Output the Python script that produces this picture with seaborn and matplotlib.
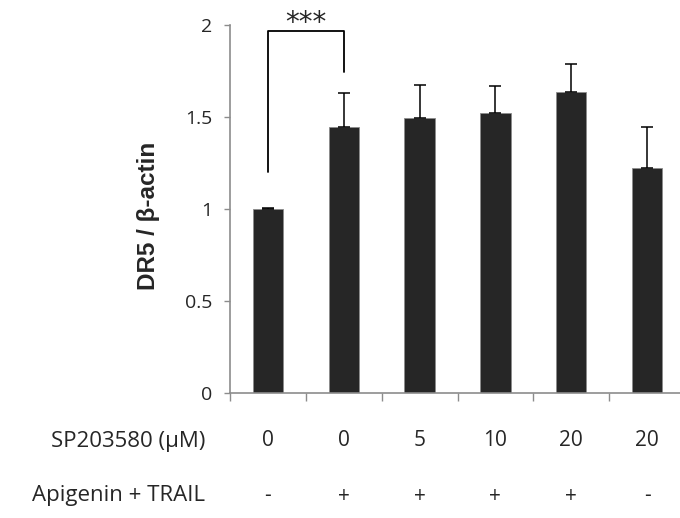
import numpy as np
import pandas as pd
import matplotlib
matplotlib.use("Agg")
import matplotlib.pyplot as plt
import seaborn as sns

# values
groups = ["g1", "g2", "g3", "g4", "g5", "g6"]
ratio = [1.00, 1.445, 1.497, 1.52, 1.638, 1.222]
err_up = [0.005, 0.185, 0.177, 0.15, 0.15, 0.225]
sp_dose = ["0", "0", "5", "10", "20", "20"]
api_trail = ["-", "+", "+", "+", "+", "-"]

sns.set_style("white")
plt.rcParams["font.family"] = ["Open Sans", "DejaVu Sans"]

df = pd.DataFrame({"group": groups, "ratio": ratio})

fig = plt.figure(figsize=(6.8, 5.18), dpi=100)
ax = fig.add_axes([230 / 680, 1 - 393 / 518, 455 / 680, 368 / 518])

sns.barplot(data=df, x="group", y="ratio", color="#262626", width=0.4,
            edgecolor="#8c8c8c", linewidth=0.6, saturation=1, ax=ax)
ax.errorbar(np.arange(len(ratio)), ratio, yerr=[np.zeros(len(ratio)), err_up],
            fmt="none", ecolor="black", elinewidth=1.1, capsize=4.5, capthick=1.1)

ax.set_xlim(-0.5, 5.5)
ax.set_ylim(0, 2)
ax.set_yticks([0, 0.5, 1, 1.5, 2])
ax.set_yticklabels(["0", "0.5", "1", "1.5", "2"], fontsize=14)
ax.set_xticks(np.arange(-0.5, 5.6, 1))
ax.set_xticklabels([])
ax.set_xlabel("")
ax.set_ylabel("DR5 / β-actin", fontsize=17.5, fontweight="bold",
              family="Liberation Sans")
ax.yaxis.set_label_coords(-0.153, 0.48)
ax.tick_params(axis="y", left=True, direction="out", length=4.5, width=1,
               color="#8c8c8c", pad=8)
ax.tick_params(axis="x", bottom=True, direction="out", length=5.5, width=1,
               color="#8c8c8c")
for side in ["top", "right"]:
    ax.spines[side].set_visible(False)
for side in ["left", "bottom"]:
    ax.spines[side].set_color("#8c8c8c")
    ax.spines[side].set_linewidth(1.2)

# significance bracket
ax.plot([0, 0, 1, 1], [1.2, 1.965, 1.965, 1.745], color="black", lw=1.3,
        clip_on=False)
ax.text(0.5, 2.01, "***", ha="center", va="center", fontsize=20,
        family="DejaVu Sans", clip_on=False)

# treatment rows under the axis
tr = ax.get_xaxis_transform()
for i in range(len(groups)):
    ax.text(i, -48 / 368, sp_dose[i], transform=tr, ha="center", va="center",
            fontsize=15)
    ax.text(i, -103 / 368, api_trail[i], transform=tr, ha="center", va="center",
            fontsize=15)
fig.text(205 / 680, 1 - 441 / 518, "SP203580 (μM)", ha="right", va="center",
         fontsize=16)
fig.text(205 / 680, 1 - 496 / 518, "Apigenin + TRAIL", ha="right", va="center",
         fontsize=16)

fig.savefig("out.png", dpi=100)
